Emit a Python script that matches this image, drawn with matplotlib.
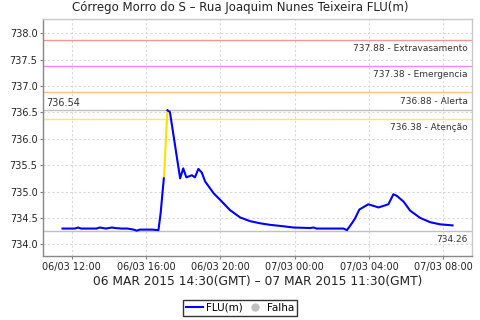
import matplotlib
matplotlib.use("Agg")
import matplotlib.pyplot as plt
import matplotlib.dates as mdates
from matplotlib.lines import Line2D
from datetime import datetime, timedelta

# ---------------- data ----------------
times = [
    "06/03 11:30", "06/03 11:50", "06/03 12:10", "06/03 12:20", "06/03 12:30",
    "06/03 13:00", "06/03 13:20", "06/03 13:30", "06/03 13:40", "06/03 13:50",
    "06/03 14:10", "06/03 14:20", "06/03 14:40", "06/03 15:00", "06/03 15:20",
    "06/03 15:30", "06/03 15:40", "06/03 16:00", "06/03 16:20", "06/03 16:40",
    "06/03 16:47", "06/03 16:58", "06/03 17:09", "06/03 17:17", "06/03 17:50",
    "06/03 18:00", "06/03 18:10", "06/03 18:28", "06/03 18:38", "06/03 18:49",
    "06/03 19:00", "06/03 19:11", "06/03 19:38", "06/03 20:05", "06/03 20:31",
    "06/03 21:04", "06/03 21:36", "06/03 22:08", "06/03 22:41", "06/03 23:13",
    "06/03 23:56", "07/03 00:50", "07/03 01:01", "07/03 01:11", "07/03 02:27",
    "07/03 02:38", "07/03 02:49", "07/03 03:05", "07/03 03:15", "07/03 03:29",
    "07/03 03:58", "07/03 04:31", "07/03 05:03", "07/03 05:19", "07/03 05:30",
    "07/03 05:52", "07/03 06:13", "07/03 06:46", "07/03 07:18", "07/03 07:50",
    "07/03 08:30",
]
values = [
    734.30, 734.30, 734.30, 734.32, 734.30,
    734.30, 734.30, 734.32, 734.31, 734.30,
    734.32, 734.31, 734.30, 734.30, 734.28,
    734.26, 734.28, 734.28, 734.28, 734.27,
    734.59, 735.29, 736.54, 736.51, 735.25,
    735.44, 735.27, 735.31, 735.27, 735.43,
    735.36, 735.19, 734.97, 734.81, 734.65,
    734.51, 734.44, 734.40, 734.37, 734.35,
    734.32, 734.31, 734.32, 734.30, 734.30,
    734.30, 734.27, 734.40, 734.49, 734.66,
    734.76, 734.70, 734.76, 734.95, 734.92,
    734.81, 734.64, 734.50, 734.42, 734.38,
    734.36,
]
threshold_values = [737.88, 737.38, 736.88, 736.38]
threshold_names = ["Extravasamento", "Emergencia", "Alerta", "Atenção"]
threshold_colors = ["#F09898", "#FF80FF", "#FFC080", "#FFE860"]
max_value = 736.54
min_value = 734.26
title = "Córrego Morro do S – Rua Joaquim Nunes Teixeira FLU(m)"
xlabel = "06 MAR 2015 14:30(GMT) – 07 MAR 2015 11:30(GMT)"

dts = [datetime.strptime("2015/" + t, "%Y/%d/%m %H:%M") for t in times]
peak_i = values.index(max(values))

# ---------------- figure ----------------
fig = plt.figure(figsize=(4.8, 3.2), dpi=100)
ax = fig.add_axes([43/480, 1-256/320, (472-43)/480, (256-19)/320])

# thresholds
for v, n, c in zip(threshold_values, threshold_names, threshold_colors):
    ax.axhline(v, color=c, lw=1.0, zorder=2)
    ax.annotate(f"{v:.2f} - {n}", xy=(1, v), xycoords=("axes fraction", "data"),
                xytext=(-3, -3), textcoords="offset points",
                ha="right", va="top", fontsize=6.5, color="#333333")
ax.axhline(max_value, color="#C0C0C0", lw=1.0, zorder=2)
ax.annotate(f"{max_value:.2f}", xy=(0, max_value), xycoords=("axes fraction", "data"),
            xytext=(2, 2), textcoords="offset points",
            ha="left", va="bottom", fontsize=7, color="#333333")
ax.axhline(min_value, color="#C0C0C0", lw=1.0, zorder=2)
ax.annotate(f"{min_value:.2f}", xy=(1, min_value), xycoords=("axes fraction", "data"),
            xytext=(-3, -3), textcoords="offset points",
            ha="right", va="top", fontsize=6.5, color="#333333")

# data line
ax.plot(dts[:peak_i], values[:peak_i], color="#0000FF", lw=1.5, zorder=4)
ax.plot(dts[peak_i-1:peak_i+1], values[peak_i-1:peak_i+1], color="#FFE000", lw=1.5, zorder=4)
ax.plot(dts[peak_i:], values[peak_i:], color="#0000FF", lw=1.5, zorder=4)

# axes
pad = (dts[-1] - dts[0]) * 0.05
ax.set_xlim(dts[0] - pad, dts[-1] + pad)
ax.set_ylim(733.78, 738.27)
ax.set_yticks([734.0, 734.5, 735.0, 735.5, 736.0, 736.5, 737.0, 737.5, 738.0])
ax.yaxis.set_major_formatter(matplotlib.ticker.FormatStrFormatter("%.1f"))
ax.xaxis.set_major_locator(mdates.HourLocator(byhour=[0, 4, 8, 12, 16, 20]))
ax.xaxis.set_major_formatter(mdates.DateFormatter("%d/%m %H:%M"))
ax.tick_params(axis="both", labelsize=7, length=2, color="#808080", pad=2,
               labelcolor="#222222")
ax.grid(True, color="#D8D8D8", linestyle=(0, (2, 2)), lw=0.8, zorder=0)
for s in ["left", "bottom"]:
    ax.spines[s].set_color("#888888")
    ax.spines[s].set_linewidth(1.0)
for s in ["top", "right"]:
    ax.spines[s].set_color("#C8C8C8")
    ax.spines[s].set_linewidth(1.0)

fig.text(0.5, 1 - 8/320, title, ha="center", va="center", fontsize=8.5, color="#222222")
fig.text((43 + 472) / 2 / 480, 1 - 282/320, xlabel, ha="center", va="center",
         fontsize=8.8, color="#222222")

handles = [Line2D([], [], color="#0000FF", lw=1.5),
           Line2D([], [], color="#C0C0C0", marker="o", ls="none", markersize=5)]
leg = fig.legend(handles, ["FLU(m)", "Falha"], loc="center", bbox_to_anchor=(0.5, 1 - 308/320),
                 ncol=2, fontsize=7.5, frameon=True, fancybox=False, handlelength=1.6,
                 handletextpad=0.3, columnspacing=0.4, borderpad=0.3, borderaxespad=0)
leg.get_frame().set_edgecolor("black")
leg.get_frame().set_linewidth(1.0)

fig.savefig("out.png", dpi=100, facecolor="white")
